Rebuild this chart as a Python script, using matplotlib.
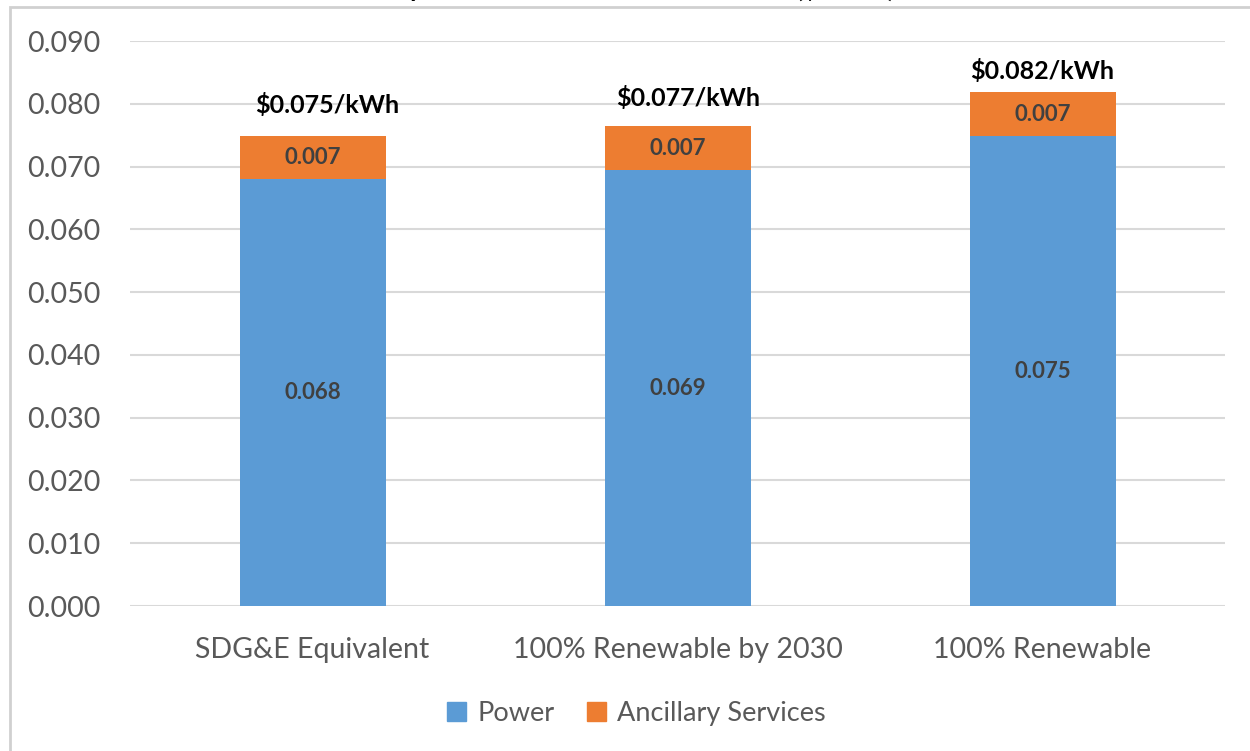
import matplotlib
matplotlib.use("Agg")

import matplotlib.pyplot as plt
from matplotlib.patches import Rectangle, Patch
import numpy as np

categories = ["SDG&E Equivalent", "100% Renewable by 2030", "100% Renewable"]
power = [0.0680, 0.0694, 0.0748]
ancillary = [0.0069, 0.0070, 0.0070]
power_labels = ["0.068", "0.069", "0.075"]
ancillary_labels = ["0.007", "0.007", "0.007"]
total_labels = ["$0.075/kWh", "$0.077/kWh", "$0.082/kWh"]
y_ticks = [0.000, 0.010, 0.020, 0.030, 0.040, 0.050, 0.060, 0.070, 0.080, 0.090]

plt.rcParams["font.family"] = ["Lato", "DejaVu Sans"]

blue = "#5B9BD5"
orange = "#ED7D31"
grid_gray = "#D9D9D9"
text_gray = "#595959"

fig = plt.figure(figsize=(12.5, 7.51), dpi=100)
ax = fig.add_axes([0.104, 0.193, 0.876, 0.7524])

# chart frame (partly cropped in the original)
fig.patches.append(Rectangle((10 / 1250, -0.05), 1.2, 1 - 7 / 751 + 0.05,
                             transform=fig.transFigure, fill=False,
                             edgecolor="#D0D0D0", linewidth=2))

# cropped title, only the lower edge shows
fig.text(0.505, 1 + 3 / 751, "20-year levelized total electric costs ($/kWh)",
         ha="center", va="baseline", fontsize=19, fontweight="bold", color="black")

x = np.arange(len(categories))
width = 0.40
ax.bar(x, power, width, color=blue, label="Power", zorder=3)
ax.bar(x, ancillary, width, bottom=power, color=orange, label="Ancillary Services", zorder=3)

for i in range(len(categories)):
    ax.text(x[i], power[i] / 2, power_labels[i], ha="center", va="center",
            fontsize=16, fontweight="bold", color="#404040", zorder=4)
    ax.text(x[i], power[i] + ancillary[i] / 2, ancillary_labels[i], ha="center", va="center",
            fontsize=16, fontweight="bold", color="#404040", zorder=4)

total_dx = [0.04, 0.03, 0.0]
total_dy = [0.0049, 0.0045, 0.0035]
for i in range(len(categories)):
    ax.text(x[i] + total_dx[i], power[i] + ancillary[i] + total_dy[i], total_labels[i],
            ha="center", va="center", fontsize=18, fontweight="bold", color="black", zorder=4)

ax.set_xlim(-0.5, 2.5)
ax.set_ylim(0, 0.09)
ax.set_yticks(y_ticks)
ax.set_yticklabels([f"{v:.3f}" for v in y_ticks])
ax.set_xticks(x)
ax.set_xticklabels(categories)
ax.tick_params(axis="y", length=0, pad=21, labelsize=20.5, labelcolor=text_gray)
ax.tick_params(axis="x", length=0, pad=22, labelsize=20.5, labelcolor=text_gray)
ax.grid(axis="y", color=grid_gray, linewidth=1.5, zorder=0)
for side in ax.spines:
    ax.spines[side].set_visible(False)

handles = [Patch(color=blue), Patch(color=orange)]
fig.legend(handles, ["Power", "Ancillary Services"], loc="center", bbox_to_anchor=(0.509, 0.050),
           ncol=2, frameon=False, fontsize=19.5, labelcolor=text_gray,
           handlelength=0.7, handleheight=0.7, handletextpad=0.4, columnspacing=1.2)

plt.savefig("out.png", dpi=100)
plt.close(fig)
